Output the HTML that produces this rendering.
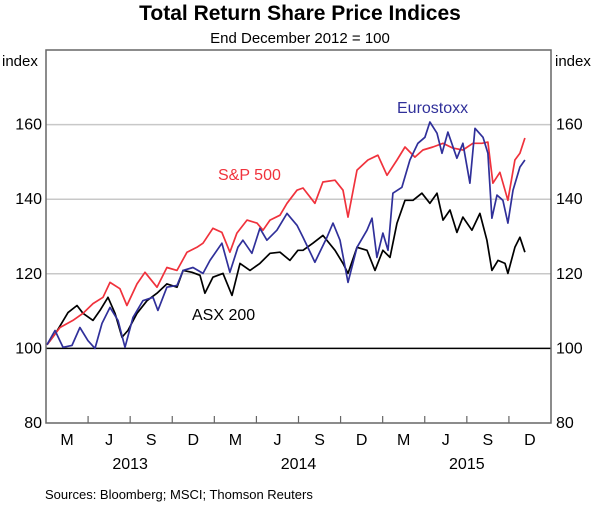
<!DOCTYPE html>
<html><head><meta charset="utf-8"><style>
body{margin:0;background:#fff;font-family:"Liberation Sans",Arial,sans-serif}
svg text{font-family:"Liberation Sans",Arial,sans-serif}
</style></head><body>
<svg id="c" width="600" height="505" viewBox="0 0 600 505"></svg>
<script>
// months since 1 Jan 2013
const redMonths=[0.07,1.0,1.92,2.64,3.35,4.06,4.56,5.27,5.77,6.49,7.06,7.91,8.62,9.34,10.05,10.76,11.19,11.9,12.54,13.11,13.61,14.33,15.04,15.47,15.97,16.68,17.18,17.89,18.32,19.17,19.74,20.6,21.17,21.53,22.17,22.95,23.66,24.31,25.02,25.59,26.3,26.87,27.58,28.3,29.01,29.72,30.43,31.08,31.5,31.86,32.36,32.93,33.43,33.78,34.14];
const spValues=[101,105.6,107.5,109.4,112,113.7,117.7,116,111.5,117.3,120.4,116.4,121.7,120.9,125.8,127.1,128.2,132.2,131.1,125.8,130.9,134.4,133.6,131.7,134.4,135.7,138.9,142.4,143,138.9,144.6,145.1,142.4,135.2,147.8,150.5,151.8,146.4,150.5,154,151.3,153.2,154,155,153.7,153.2,155,155,155.3,144.3,147.2,139.7,150.5,152.3,156.4];
const blueMonths=[0.07,0.64,1.21,1.85,2.42,2.99,3.49,3.99,4.56,5.13,5.63,6.2,6.91,7.63,7.98,8.62,9.34,9.77,10.48,11.19,11.69,12.54,13.11,13.68,14.04,14.68,15.25,15.75,16.46,17.18,17.89,18.32,19.17,20.03,20.46,20.96,21.53,22.17,22.88,23.24,23.59,24.02,24.38,24.73,25.37,25.94,26.51,27.01,27.37,27.87,28.23,28.65,29.29,29.72,30.22,30.58,31.15,31.5,31.79,32.15,32.57,32.93,33.29,33.78,34.14];
const euroValues=[101,104.8,100.3,100.8,105.6,102.1,100,106.7,111,107.5,100.3,108.3,112.8,113.7,110.2,116.4,116.9,120.9,121.7,120.1,123.6,128.2,120.4,127.1,129,125.5,132.2,129,131.7,136.2,133,129.8,123.1,129.8,133.6,129,117.7,127.1,131.7,134.9,124.4,130.9,126.3,141.6,143.2,150.5,155,156.6,160.7,157.7,152.3,158,151,155,144.3,159,156.6,152.3,134.9,141.1,139.7,133.6,142.4,148.6,150.5];
const blackMonths=[0.07,0.71,1.57,2.21,2.64,3.35,3.85,4.42,4.92,5.42,5.84,6.49,7.2,7.91,8.62,9.34,9.77,10.41,10.98,11.33,11.9,12.62,13.26,13.83,14.54,15.25,15.97,16.68,17.39,17.96,18.32,19.03,19.74,20.6,21.17,21.53,22.17,22.88,23.45,24.02,24.52,25.02,25.59,26.16,26.8,27.37,27.87,28.3,28.8,29.29,29.72,30.36,30.93,31.43,31.79,32.22,32.72,32.93,33.43,33.78,34.14];
const asxValues=[101,104.2,109.6,111.5,109.4,107.5,110.2,113.7,109.4,103,104.8,109.4,112.8,114.8,117.3,116.4,120.9,120.4,119.6,114.8,119.1,120.1,114.2,122.8,120.9,122.8,125.5,125.8,123.6,126.3,126.3,128.2,130.3,126.3,122.8,120.1,127.1,126.3,120.9,126.3,124.4,133.6,139.7,139.7,141.6,138.9,141.6,134.4,137.1,131.1,135.2,131.7,136.2,129,120.9,123.6,122.8,120.1,127.1,129.8,125.8];
const yTicks=[80,100,120,140,160];
const monthLabels=["M","J","S","D","M","J","S","D","M","J","S","D"];
const yearLabels=["2013","2014","2015"];

const L=46,R=551,T=50,B=423,yMin=80,yMax=180,nMonths=36;
const X=t=>L+(R-L)*t/nMonths;
const Y=v=>B-(B-T)*(v-yMin)/(yMax-yMin);
const svg=document.getElementById('c');
const NS='http://www.w3.org/2000/svg';
function mk(tag,attrs,txt){const e=document.createElementNS(NS,tag);for(const k in attrs)e.setAttribute(k,attrs[k]);if(txt!=null)e.textContent=txt;svg.appendChild(e);return e;}

let e;
e=mk('text',{x:300,y:20,'text-anchor':'middle','font-size':21,'font-weight':'bold',fill:'#000'},'Total Return Share Price Indices');


e=mk('text',{x:300,y:43,'text-anchor':'middle','font-size':15,fill:'#000'},'End December 2012 = 100');


e=mk('text',{x:2,y:66,'font-size':15,fill:'#000'},'index');


e=mk('text',{x:555,y:66,'font-size':15,fill:'#000'},'index');



yTicks.forEach(v=>{
  if(v>yMin){
    e=mk('line',{x1:L,x2:R,y1:Y(v),y2:Y(v),stroke:v===100?'#000':'#c8c8c8','stroke-width':1.5});
    
    
  }
  e=mk('text',{x:L-4,y:Y(v)+5,'text-anchor':'end','font-size':16,fill:'#000'},String(v));
  
  
  e=mk('text',{x:R+5,y:Y(v)+5,'font-size':16,fill:'#000'},String(v));
  
  
});
e=mk('rect',{x:L,y:T,width:R-L,height:B-T,fill:'none',stroke:'#666','stroke-width':1.5});


for(let q=1;q<12;q++){
  e=mk('line',{x1:X(q*3),x2:X(q*3),y1:B,y2:B-7,stroke:'#666','stroke-width':1.2});
  
  
}
monthLabels.forEach((m,i)=>{
  e=mk('text',{x:X(i*3+1.5),y:B+22,'text-anchor':'middle','font-size':16,fill:'#000'},m);
  
  
});
yearLabels.forEach((yr,i)=>{
  e=mk('text',{x:X(i*12+6),y:B+46,'text-anchor':'middle','font-size':16,fill:'#000'},yr);
  
  
});

function series(ts,vs,color,name){
  const d=ts.map((t,i)=>(i?'L':'M')+X(t).toFixed(1)+','+Y(vs[i]).toFixed(1)).join('');
  const p=mk('path',{d:d,fill:'none',stroke:color,'stroke-width':1.7,'stroke-linejoin':'round'});
  
  
}
series(blackMonths,asxValues,'#000','asx200-line');
series(redMonths,spValues,'#f0323c','sp500-line');
series(blueMonths,euroValues,'#30309a','eurostoxx-line');

e=mk('text',{x:218,y:180,'font-size':16,fill:'#f0323c'},'S&P 500');


e=mk('text',{x:397,y:113,'font-size':16,fill:'#30309a'},'Eurostoxx');


e=mk('text',{x:192,y:320,'font-size':16,fill:'#000'},'ASX 200');


e=mk('text',{x:45,y:499,'font-size':13,fill:'#000'},'Sources:  Bloomberg; MSCI; Thomson Reuters');


</script>
</body></html>
